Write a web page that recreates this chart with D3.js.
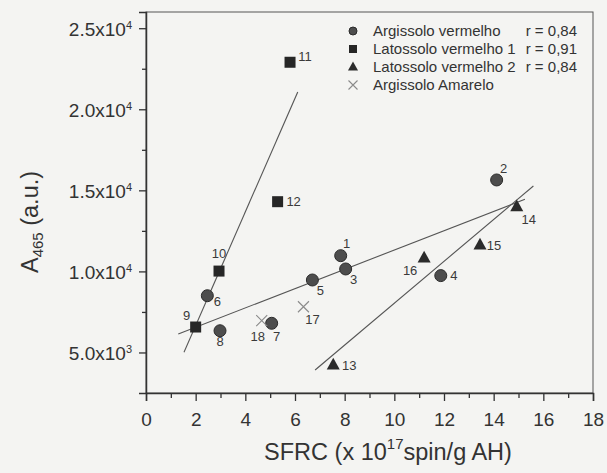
<!DOCTYPE html>
<html>
<head>
<meta charset="utf-8">
<script src="https://cdn.jsdelivr.net/npm/d3@7/dist/d3.min.js"></script>
<style>
  html, body { margin: 0; padding: 0; background: #f4f4f2; }
  svg { display: block; }
  svg text { font-family: "Liberation Sans", Arimo, Arial, Helvetica, sans-serif; }
</style>
</head>
<body>
<svg id="chart" width="607" height="473"></svg>
<script>
// Sample series: SFRC (x 10^17 spin/g AH) vs A465
const argVermelhoIds = ["1", "2", "3", "4", "5", "6", "7", "8"];
const argVermelhoX   = [7.84, 14.12, 8.04, 11.87, 6.70, 2.47, 5.06, 2.98];
const argVermelhoY   = [10970, 15640, 10150, 9740, 9470, 8500, 6800, 6340];

const lat1Ids = ["9", "10", "11", "12"];
const lat1X   = [2.00, 2.94, 5.80, 5.30];
const lat1Y   = [6570, 10020, 22900, 14300];

const lat2Ids = ["13", "14", "15", "16"];
const lat2X   = [7.54, 14.93, 13.45, 11.20];
const lat2Y   = [4230, 13990, 11630, 10830];

const argAmareloIds = ["17", "18"];
const argAmareloX   = [6.34, 4.66];
const argAmareloY   = [7820, 6960];

// Linear fits (end points in data units)
const fitLat1X = [1.53, 6.11];
const fitLat1Y = [5010, 21070];
const fitArgX  = [1.30, 15.26];
const fitArgY  = [6140, 14450];
const fitLat2X = [6.81, 15.60];
const fitLat2Y = [3919, 15270];

// Legend
const legendNames = ["Argissolo vermelho", "Latossolo vermelho 1", "Latossolo vermelho 2", "Argissolo Amarelo"];
const legendR     = ["r = 0,84", "r = 0,91", "r = 0,84", ""];
const legendShape = ["circle", "square", "triangle", "cross"];

// Axis ticks
const xTickValues  = [0, 2, 4, 6, 8, 10, 12, 14, 16, 18];
const xMinorValues = [1, 3, 5, 7, 9, 11, 13, 15, 17];
const yTickValues  = [5000, 10000, 15000, 20000, 25000];
const yTickMantissa = ["5.0", "1.0", "1.5", "2.0", "2.5"];
const yTickExponent = ["3", "4", "4", "4", "4"];
const yMinorValues = [7500, 12500, 17500, 22500];

// ---------------------------------------------------------------
const FONT = '"Liberation Sans", Arimo, Arial, Helvetica, sans-serif';
const svg = d3.select("#chart");
const plot = { left: 146, right: 593, top: 12, bottom: 393 };

const x = d3.scaleLinear().domain([0, 18]).range([plot.left, plot.right]);
const y = d3.scaleLinear().domain([2500, 26000]).range([plot.bottom, plot.top]);

const ink = "#333";

// frame
svg.append("rect")
  .attr("x", plot.left).attr("y", plot.top)
  .attr("width", plot.right - plot.left).attr("height", plot.bottom - plot.top)
  .attr("fill", "none").attr("stroke", "#555").attr("stroke-width", 1);

// x axis
const gx = svg.append("g").attr("transform", `translate(0,${plot.bottom})`);
gx.call(d3.axisBottom(x).tickValues(xTickValues).tickSize(8).tickPadding(12).tickFormat(d3.format("d")));
const gxm = svg.append("g").attr("transform", `translate(0,${plot.bottom})`);
gxm.call(d3.axisBottom(x).tickValues(xMinorValues).tickSize(5).tickFormat(""));
gxm.select(".domain").remove();

// y axis
const gy = svg.append("g").attr("transform", `translate(${plot.left},0)`);
gy.call(d3.axisLeft(y).tickValues(yTickValues).tickSize(7).tickPadding(8).tickFormat(""));
const gym = svg.append("g").attr("transform", `translate(${plot.left},0)`);
gym.call(d3.axisLeft(y).tickValues(yMinorValues).tickSize(4).tickFormat(""));
gym.select(".domain").remove();

[gx, gxm, gy, gym].forEach(g => {
  g.attr("font-family", FONT);
  g.selectAll(".domain").attr("stroke", ink).attr("stroke-width", 1.5);
  g.selectAll(".tick line").attr("stroke", ink).attr("stroke-width", 1.3);
});
gx.selectAll(".tick text").attr("fill", ink).attr("font-size", 19).attr("font-family", FONT);

// y tick labels with exponent
gy.selectAll(".tick text").each(function (d) {
  const i = yTickValues.indexOf(d);
  const t = d3.select(this).text(null)
    .attr("fill", ink).attr("font-size", 19).attr("font-family", FONT)
    .attr("text-anchor", "end").attr("x", -14).attr("dy", "0.36em");
  t.append("tspan").text(yTickMantissa[i] + "x10");
  t.append("tspan").attr("font-size", 11).attr("dy", "-0.62em").text(yTickExponent[i]);
});

// fit lines
const fitLine = (xs, ys) => svg.append("line")
  .attr("x1", x(xs[0])).attr("y1", y(ys[0]))
  .attr("x2", x(xs[1])).attr("y2", y(ys[1]))
  .attr("stroke", "#555").attr("stroke-width", 1.1);
fitLine(fitLat1X, fitLat1Y);
fitLine(fitArgX, fitArgY);
fitLine(fitLat2X, fitLat2Y);

// marker drawing
function marker(g, shape, cx, cy, s) {
  if (shape === "circle") {
    g.append("circle").attr("cx", cx).attr("cy", cy).attr("r", s / 2)
      .attr("fill", "#4d4d4d").attr("stroke", "#2b2b2b").attr("stroke-width", 1);
  } else if (shape === "square") {
    g.append("rect").attr("x", cx - s / 2).attr("y", cy - s / 2)
      .attr("width", s).attr("height", s).attr("fill", "#262626");
  } else if (shape === "triangle") {
    const h = s * 0.9;
    g.append("path")
      .attr("d", `M${cx},${cy - h * 0.62} L${cx + s / 2},${cy + h * 0.38} L${cx - s / 2},${cy + h * 0.38} Z`)
      .attr("fill", "#2b2b2b");
  } else {
    const r = s / 2;
    g.append("path")
      .attr("d", `M${cx - r},${cy - r} L${cx + r},${cy + r} M${cx - r},${cy + r} L${cx + r},${cy - r}`)
      .attr("stroke", "#8a8a8a").attr("stroke-width", 1.1).attr("fill", "none");
  }
}

const marks = svg.append("g");
const series = [
  { shape: "circle",   ids: argVermelhoIds, xs: argVermelhoX, ys: argVermelhoY, size: 12 },
  { shape: "square",   ids: lat1Ids,        xs: lat1X,        ys: lat1Y,        size: 11 },
  { shape: "triangle", ids: lat2Ids,        xs: lat2X,        ys: lat2Y,        size: 13 },
  { shape: "cross",    ids: argAmareloIds,  xs: argAmareloX,  ys: argAmareloY,  size: 11 }
];
series.forEach(s => s.ids.forEach((id, i) => marker(marks, s.shape, x(s.xs[i]), y(s.ys[i]), s.size)));

// point number labels: offset (dx, dy) of the label centre from the marker
const labelOffsets = {
  "1": [6, -12], "2": [7, -12], "3": [8, 10], "4": [13, 0], "5": [8, 10], "6": [10, 6],
  "7": [5, 13], "8": [0, 11], "9": [-9, -12], "10": [0, -18], "11": [15, -6], "12": [16, 0],
  "13": [16, 0], "14": [12, 13], "15": [14, 0], "16": [-14, 12], "17": [9, 13], "18": [-4, 16]
};
const labels = svg.append("g").attr("font-size", 13).attr("fill", "#3a3a3a")
  .attr("text-anchor", "middle").attr("font-family", FONT);
series.forEach(s => s.ids.forEach((id, i) => {
  const o = labelOffsets[id];
  labels.append("text")
    .attr("x", x(s.xs[i]) + o[0]).attr("y", y(s.ys[i]) + o[1])
    .attr("dy", "0.36em").text(id);
}));

// legend
const lg = svg.append("g").attr("font-size", 15).attr("fill", ink).attr("font-family", FONT);
const legendSizes = { circle: 8, square: 8, triangle: 10, cross: 9 };
legendNames.forEach((name, i) => {
  const cy = 31 + i * 18;
  marker(lg, legendShape[i], 353, cy, legendSizes[legendShape[i]]);
  lg.append("text").attr("x", 373).attr("y", cy).attr("dy", "0.36em").text(name);
  if (legendR[i]) {
    lg.append("text").attr("x", 577).attr("y", cy).attr("dy", "0.36em")
      .attr("text-anchor", "end").text(legendR[i]);
  }
});

// axis titles
const xt = svg.append("text").attr("x", 388).attr("y", 460)
  .attr("text-anchor", "middle").attr("font-size", 23.5).attr("fill", ink).attr("font-family", FONT);
xt.append("tspan").text("SFRC (x 10");
xt.append("tspan").attr("font-size", 15).attr("dy", "-0.75em").text("17");
xt.append("tspan").attr("dy", "0.48em").text("spin/g AH)");

const yt = svg.append("text").attr("transform", "translate(38,222) rotate(-90)")
  .attr("text-anchor", "middle").attr("font-size", 23.5).attr("fill", ink).attr("font-family", FONT);
yt.append("tspan").text("A");
yt.append("tspan").attr("font-size", 15).attr("dy", "0.35em").text("465");
yt.append("tspan").attr("dy", "-0.22em").text(" (a.u.)");
</script>
</body>
</html>
